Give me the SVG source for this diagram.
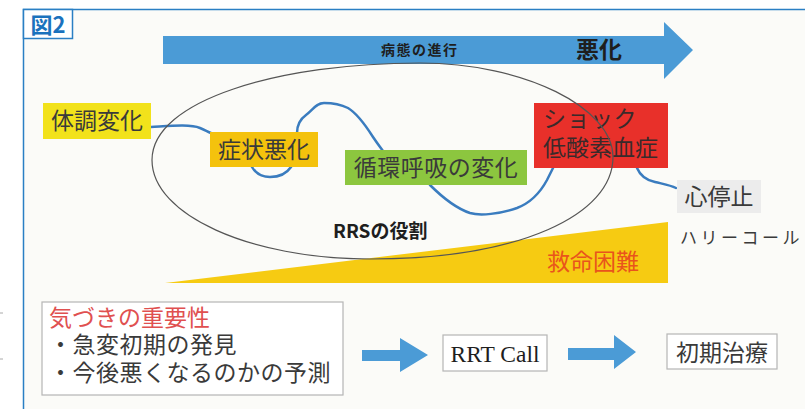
<svg xmlns="http://www.w3.org/2000/svg" width="805" height="409" viewBox="0 0 805 409">
<style>
.jp{font-family:"Noto Sans CJK JP","Noto Sans CJK SC",sans-serif;}
.lbl{font-size:23px;fill:#3a3a3a;text-anchor:middle;}
.wave{fill:none;stroke:#3a7cbf;stroke-width:2.5;stroke-linecap:round;}
.arrow{fill:#4b9bd6;}
.wbox{fill:#ffffff;stroke:#b5b5b5;stroke-width:1.2;}
</style>
<rect x="0" y="0" width="805" height="409" fill="#ffffff"/>
<line x1="0" y1="313" x2="3" y2="313" stroke="#aaaaaa" stroke-width="1"/>
<line x1="0" y1="359" x2="3" y2="359" stroke="#aaaaaa" stroke-width="1"/>
<g id="frame">
<rect x="23.5" y="9.5" width="800" height="420" fill="#fbfbf8" stroke="#2a7fc4" stroke-width="1.5"/>
<rect x="23.5" y="9.5" width="49" height="29" fill="#ffffff" stroke="#2a7fc4" stroke-width="1.5"/>
<text x="48" y="33" class="jp" font-size="22" font-weight="700" fill="#1a72bd" text-anchor="middle">図2</text>
</g>
<g id="progress-arrow">
<path class="arrow" d="M163,36 H664 V22 L693,50 L664,79 V64 H163 Z"/>
<text x="381" y="55" class="jp" font-size="14" font-weight="700" fill="#1e1e1e" letter-spacing="1.5">病態の進行</text>
<text x="576" y="58" class="jp" font-size="23" font-weight="700" fill="#1e1e1e">悪化</text>
</g>
<g id="difficulty">
<polygon points="165,283 668,222 668,283" fill="#f6cb12"/>
<text x="547" y="270" class="jp" font-size="23" fill="#e9541c">救命困難</text>
</g>
<g id="connectors">
<path class="wave" d="M151,127 C170,126 190,124 200,128 C205,130 208,132 211,133"/>
<path class="wave" d="M252,167 C256,174 263,177 270,177 C280,177 287,173 291,167"/>
<path class="wave" d="M297,133 C297,126 299,120 306,115 C313,110 316,103 324,103 C332,103 340,104 348,108 C358,114 366,126 373,137 C377,143 380,147 383,151"/>
<path class="wave" d="M430,185 C440,195 455,208 470,213 C480,216 500,214 517,208 C530,203 540,193 547,180 C550,174 552,170 553,168"/>
<path class="wave" d="M637,168 C640,175 645,180 655,182 C663,184 670,185 676,188"/>
</g>
<g id="node-taichou">
<rect x="43" y="103" width="108" height="36" fill="#f2e21b"/>
<text x="97" y="129" class="jp lbl">体調変化</text>
</g>
<g id="node-shoujou">
<rect x="210" y="132" width="108" height="35" fill="#f4c20d"/>
<text x="264" y="157.5" class="jp lbl">症状悪化</text>
</g>
<g id="node-junkan">
<rect x="345" y="150" width="182" height="35" fill="#8cc63f"/>
<text x="436" y="175.5" class="jp lbl" letter-spacing="0.5">循環呼吸の変化</text>
</g>
<g id="node-shock">
<rect x="534" y="103" width="134" height="65" fill="#e8302a"/>
<text x="543" y="127" class="jp" font-size="23" fill="#3a2a2a" letter-spacing="0.5">ショック</text>
<text x="543" y="155.5" class="jp" font-size="23" fill="#3a2a2a">低酸素血症</text>
</g>
<g id="rrs-ellipse">
<path d="M152,160 C152,100 280,63 420,63 C525,63 613,108 613,157 C613,215 520,259 370,259 C250,259 152,215 152,160 Z" fill="none" stroke="#555555" stroke-width="1.2"/>
<text x="333" y="238" class="jp" font-size="19" font-weight="700" fill="#1e1e1e">RRSの役割</text>
</g>
<g id="node-arrest">
<rect x="677" y="180" width="84" height="33" fill="#ececec"/>
<text x="719" y="204.5" class="jp lbl">心停止</text>
</g>
<text x="680" y="244" class="jp" font-size="17" fill="#3a3a3a" letter-spacing="3.5">ハリーコール</text>
<g id="node-awareness">
<rect class="wbox" x="42" y="302" width="301" height="93"/>
<text x="49" y="325.5" class="jp" font-size="23" fill="#e05050">気づきの重要性</text>
<text x="49" y="353" class="jp" font-size="23" fill="#3a3a3a" letter-spacing="0.5">・急変初期の発見</text>
<text x="49" y="380.5" class="jp" font-size="23" fill="#3a3a3a" letter-spacing="0.5">・今後悪くなるのかの予測</text>
</g>
<g id="flow-arrows">
<path class="arrow" d="M362,350 H400 V338 L428,355 L400,372 V361 H362 Z"/>
<path class="arrow" d="M568,348 H614 V335 L636,352 L614,369 V360 H568 Z"/>
</g>
<g id="node-rrt">
<rect class="wbox" x="443" y="335" width="104" height="36"/>
<text x="495" y="362" font-family="'Liberation Serif',serif" font-size="23.5" fill="#1e1e1e" text-anchor="middle">RRT Call</text>
</g>
<g id="node-treatment">
<rect class="wbox" x="667" y="334" width="110" height="35"/>
<text x="722" y="360.5" class="jp lbl">初期治療</text>
</g>
</svg>
